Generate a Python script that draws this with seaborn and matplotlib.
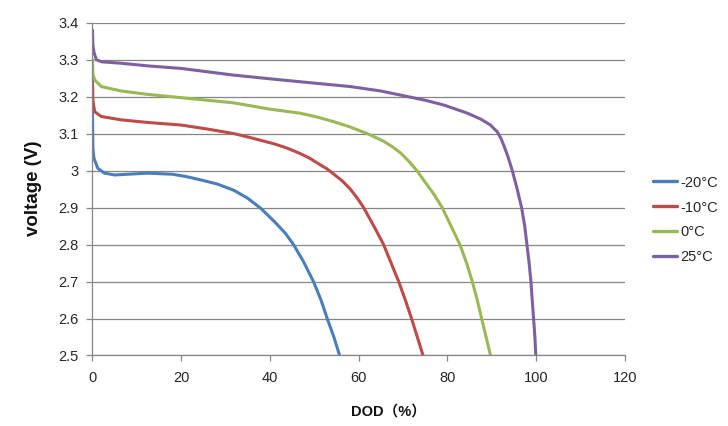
import numpy as np
import pandas as pd
import seaborn as sns
import matplotlib.pyplot as plt
from matplotlib.ticker import FuncFormatter

temps = ['-20°C', '-10°C', '0°C', '25°C']
colors = ['#4A7EBB', '#BE4B48', '#98B954', '#7D60A0']

# discharge curves: DOD (%) vs voltage (V)
dod_m20 = [0, 0.1, 0.34, 1.2, 2.7, 5, 8, 12.4, 18, 21, 24.3, 28, 31.8, 35, 38, 41, 43.5, 45.3, 47.5,
           49.8, 51.5, 52.9, 54.4, 55.7]
v_m20 = [3.17, 3.06, 3.033, 3.006, 2.993, 2.988, 2.99, 2.993, 2.99, 2.984, 2.975, 2.964, 2.947, 2.925,
         2.897, 2.862, 2.83, 2.8, 2.755, 2.7, 2.65, 2.6, 2.55, 2.5]

dod_m10 = [0, 0.1, 0.5, 2, 6.5, 12.4, 20, 26, 31.8, 35.6, 41, 44, 46.8, 49, 51, 52.8, 54.4, 56.3, 58.1,
           59.7, 61.1, 63.4, 65.6, 67.3, 69.0, 70.5, 71.9, 73.2, 74.5]
v_m10 = [3.25, 3.19, 3.159, 3.146, 3.137, 3.13, 3.123, 3.112, 3.10, 3.089, 3.072, 3.06, 3.046, 3.033,
         3.018, 3.005, 2.99, 2.972, 2.95, 2.925, 2.9, 2.85, 2.8, 2.75, 2.7, 2.65, 2.6, 2.55, 2.5]

dod_0 = [0, 0.1, 0.5, 2, 6.5, 12.4, 20, 31.8, 40, 46.8, 50.5, 54.4, 58, 61.9, 65.5, 67.5, 69.4, 71.3,
         73.1, 75, 77, 78.8, 80.8, 82.8, 84.3, 85.6, 86.7, 87.7, 88.7, 89.7]
v_0 = [3.30, 3.26, 3.245, 3.227, 3.215, 3.206, 3.197, 3.183, 3.166, 3.155, 3.145, 3.132, 3.118, 3.10,
       3.08, 3.065, 3.048, 3.025, 3.0, 2.968, 2.935, 2.9, 2.85, 2.8, 2.75, 2.7, 2.65, 2.6, 2.55, 2.5]

dod_25 = [0, 0.1, 0.34, 0.86, 2, 6.5, 12.4, 20, 31.8, 40, 46.8, 58.1, 65, 69.4, 75, 79.2, 84.5, 87.5,
          89.7, 90.5, 91.2, 92, 92.7, 93.7, 94.6, 95.7, 96.7, 97.4, 97.9, 98.4, 98.8, 99.1, 99.4,
          99.7, 99.9]
v_25 = [3.38, 3.34, 3.32, 3.30, 3.294, 3.29, 3.283, 3.276, 3.258, 3.248, 3.24, 3.227, 3.215, 3.204,
        3.19, 3.177, 3.155, 3.139, 3.123, 3.113, 3.105, 3.088, 3.068, 3.035, 3.0, 2.95, 2.9, 2.85,
        2.8, 2.75, 2.7, 2.65, 2.6, 2.55, 2.5]

series = [(dod_m20, v_m20), (dod_m10, v_m10), (dod_0, v_0), (dod_25, v_25)]
frames = []
for t, (d, v) in zip(temps, series):
    frames.append(pd.DataFrame({'dod': d, 'voltage': v, 'temp': t}))
df = pd.concat(frames, ignore_index=True)

sns.set_style('white')
plt.rcParams['font.family'] = ['Liberation Sans', 'Noto Sans CJK SC', 'DejaVu Sans']

fig = plt.figure(figsize=(7.28, 4.26), dpi=100)
ax = fig.add_axes([0.127, 0.1655, 0.7315, 0.7815])

sns.lineplot(data=df, x='dod', y='voltage', hue='temp', palette=dict(zip(temps, colors)),
             sort=False, estimator=None, linewidth=2.2, ax=ax)
for line in ax.get_lines():
    line.set_solid_joinstyle('round')

grey = '#868686'
ax.set_xlim(0, 120)
ax.set_ylim(2.5, 3.4)
ax.set_xticks(np.arange(0, 121, 20))
ax.set_yticks(np.round(np.arange(2.5, 3.41, 0.1), 1))
ax.yaxis.set_major_formatter(FuncFormatter(lambda v, p: f'{round(v, 1):g}'))
ax.grid(axis='y', color=grey, linewidth=0.9)
ax.grid(axis='x', visible=False)
for s in ['top', 'right']:
    ax.spines[s].set_visible(False)
for s in ['left', 'bottom']:
    ax.spines[s].set_color(grey)
    ax.spines[s].set_linewidth(0.9)
ax.tick_params(axis='x', direction='out', length=4, width=0.9, color=grey, pad=7,
               labelsize=10.5, labelcolor='#262626', bottom=True)
ax.tick_params(axis='y', direction='out', length=4, width=0.9, color=grey, pad=6,
               labelsize=10.5, labelcolor='#262626', left=True)

ax.set_xlabel('DOD（%）', fontsize=10.5, fontweight='bold', color='#111111')
ax.xaxis.set_label_coords(0.556, -0.148)
ax.set_ylabel('voltage (V)', fontsize=13.5, fontweight='bold', color='#111111')
ax.yaxis.set_label_coords(-0.095, 0.503)

handles, labels = ax.get_legend_handles_labels()
for h in handles:
    h.set_linewidth(2.4)
ax.legend(handles, labels, loc='center left', bbox_to_anchor=(0.897, 0.4836),
          bbox_transform=fig.transFigure, frameon=False, fontsize=10.5,
          handlelength=1.65, handletextpad=0.25, labelspacing=0.75, borderpad=0,
          borderaxespad=0)

fig.savefig('out.png', dpi=100)
